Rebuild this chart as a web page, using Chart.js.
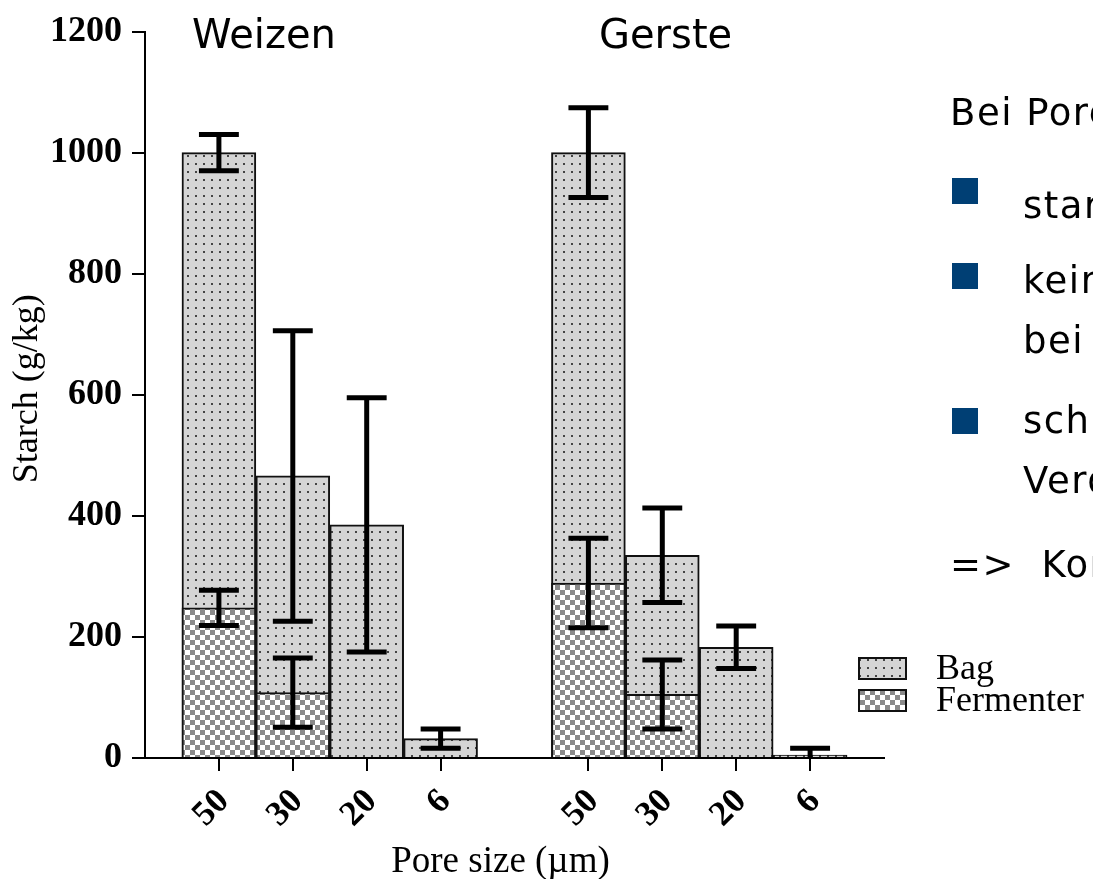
<!DOCTYPE html>
<html>
<head>
<meta charset="utf-8">
<script src="https://cdn.jsdelivr.net/npm/chart.js@4.4.1/dist/chart.umd.min.js"></script>
<style>
  html, body { margin: 0; padding: 0; background: #ffffff; overflow: hidden; }
  #wrap { width: 1093px; height: 879px; }
</style>
</head>
<body>
<div id="wrap"><canvas id="c" width="1093" height="879"></canvas></div>
<script>
// ---------------- data ----------------
const groups = ['Weizen', 'Gerste'];
const poreSizes = ['50', '30', '20', '6'];
const seriesNames = ['Bag', 'Fermenter'];

const bagWeizen = [1000, 466, 385, 32];
const bagGerste = [1000, 335, 183, 5];
const bagWeizenErr = [30, 240, 210, 16];
const bagGersteErr = [74, 78, 35, 11];

const fermWeizen = [248, 108, null, null];
const fermGerste = [289, 105, null, null];
const fermWeizenErr = [29, 57, null, null];
const fermGersteErr = [74, 57, null, null];

const yTicks = [0, 200, 400, 600, 800, 1000, 1200];
const xTitle = 'Pore size (µm)';
const yTitle = 'Starch (g/kg)';

const noteHeader = 'Bei Porengröße';
const noteBullets = [['stark'], ['keine', 'bei'], ['schlecht', 'Verdau']];
const noteConclusion = '=>  Kompromiss';

// ---------------- patterns ----------------
function makeDotPattern() {
  const c = document.createElement('canvas');
  c.width = 8; c.height = 8;
  const g = c.getContext('2d');
  g.fillStyle = '#d5d5d5'; g.fillRect(0, 0, 8, 8);
  g.fillStyle = '#444444'; g.fillRect(3, 3, 2, 2);
  return g.createPattern(c, 'repeat');
}
function makeCheckerPattern() {
  const c = document.createElement('canvas');
  c.width = 10; c.height = 10;
  const g = c.getContext('2d');
  g.fillStyle = '#ffffff'; g.fillRect(0, 0, 10, 10);
  g.fillStyle = '#8a8a8a'; g.fillRect(0, 0, 5, 5); g.fillRect(5, 5, 5, 5);
  return g.createPattern(c, 'repeat');
}
const dotPattern = makeDotPattern();
const checkerPattern = makeCheckerPattern();

// ---------------- build datasets ----------------
const slot = (gi, i) => gi * (poreSizes.length + 1) + i;
function buildPoints(perGroup) {
  const pts = [];
  perGroup.forEach((vals, gi) => vals.forEach((v, i) => pts.push({ x: slot(gi, i), y: v })));
  return pts;
}
const tickSlots = [];
groups.forEach((g, gi) => poreSizes.forEach((p, i) => tickSlots.push(slot(gi, i))));
const tickLabels = [];
groups.forEach(() => poreSizes.forEach(p => tickLabels.push(p)));

const datasets = [
  {
    label: seriesNames[0],
    data: buildPoints([bagWeizen, bagGerste]),
    errors: [].concat(bagWeizenErr, bagGersteErr),
    backgroundColor: dotPattern,
    borderColor: '#111111',
    borderWidth: 2,
    order: 2,
    grouped: false,
    barPercentage: 1.0,
    categoryPercentage: 1.0
  },
  {
    label: seriesNames[1],
    data: buildPoints([fermWeizen, fermGerste]),
    errors: [].concat(fermWeizenErr, fermGersteErr),
    backgroundColor: checkerPattern,
    borderColor: '#111111',
    borderWidth: 2,
    order: 1,
    grouped: false,
    barPercentage: 1.0,
    categoryPercentage: 1.0
  }
];

// ---------------- plugins ----------------
const errorBars = {
  id: 'errorBars',
  afterDatasetsDraw(chart) {
    const ctx = chart.ctx;
    const ys = chart.scales.y;
    const area = chart.chartArea;
    ctx.save();
    ctx.beginPath();
    ctx.rect(area.left, area.top - 20, area.right - area.left, area.bottom - area.top + 20);
    ctx.clip();
    ctx.strokeStyle = '#000000';
    ctx.lineWidth = 5;
    ctx.lineCap = 'butt';
    chart.data.datasets.forEach((ds, di) => {
      const meta = chart.getDatasetMeta(di);
      meta.data.forEach((bar, i) => {
        const sd = ds.errors[i];
        const v = ds.data[i].y;
        if (sd == null || v == null) return;
        const yt = ys.getPixelForValue(v + sd);
        const yb = ys.getPixelForValue(v - sd);
        const half = bar.width * 0.27;
        ctx.beginPath();
        ctx.moveTo(bar.x, yt); ctx.lineTo(bar.x, yb);
        ctx.moveTo(bar.x - half, yt); ctx.lineTo(bar.x + half, yt);
        ctx.moveTo(bar.x - half, yb); ctx.lineTo(bar.x + half, yb);
        ctx.stroke();
      });
    });
    ctx.restore();
  }
};

const annotations = {
  id: 'annotations',
  afterDraw(chart) {
    const ctx = chart.ctx;
    const xs = chart.scales.x;
    const area = chart.chartArea;
    ctx.save();
    ctx.fillStyle = '#000000';

    // rotated x tick labels
    ctx.font = 'bold 35px "Liberation Serif", "Times New Roman", serif';
    ctx.textAlign = 'right';
    ctx.textBaseline = 'middle';
    tickSlots.forEach((s, k) => {
      const px = xs.getPixelForValue(s);
      ctx.save();
      ctx.translate(px + 5, area.bottom + 38);
      ctx.rotate(-Math.PI / 4);
      ctx.fillText(tickLabels[k], 0, 0);
      ctx.restore();
    });

    // axis titles
    ctx.font = '37px "Liberation Serif", "Times New Roman", serif';
    ctx.textAlign = 'center';
    ctx.textBaseline = 'alphabetic';
    ctx.fillText(xTitle, (area.left + area.right) / 2 - 14, 872);
    ctx.font = '36px "Liberation Serif", "Times New Roman", serif';
    ctx.save();
    ctx.translate(37, (area.top + area.bottom) / 2 - 6);
    ctx.rotate(-Math.PI / 2);
    ctx.fillText(yTitle, 0, 0);
    ctx.restore();

    // group headers
    ctx.font = '40px "DejaVu Sans", sans-serif';
    ctx.textAlign = 'left';
    ctx.fillText(groups[0], 192, 48);
    ctx.fillText(groups[1], 599, 48);

    // legend
    const boxes = [dotPattern, checkerPattern];
    ctx.font = '36px "Liberation Serif", "Times New Roman", serif';
    seriesNames.forEach((name, k) => {
      const top = 658 + k * 32;
      ctx.fillStyle = boxes[k];
      ctx.fillRect(859, top, 47, 21);
      ctx.strokeStyle = '#111111';
      ctx.lineWidth = 2;
      ctx.strokeRect(859, top, 47, 21);
      ctx.fillStyle = '#000000';
      ctx.fillText(name, 936, top + 21);
    });

    // slide notes on the right
    ctx.font = '37px "DejaVu Sans", sans-serif';
    try { ctx.letterSpacing = '1.5px'; } catch (e) {}
    ctx.fillStyle = '#000000';
    ctx.fillText(noteHeader, 950, 125);
    const bulletTops = [178, 263, 408];
    const lineBase = [218, 293, 433];
    noteBullets.forEach((lines, k) => {
      ctx.fillStyle = '#003f74';
      ctx.fillRect(952, bulletTops[k], 26, 26);
      ctx.fillStyle = '#000000';
      lines.forEach((t, j) => ctx.fillText(t, 1023, lineBase[k] + j * 60));
    });
    ctx.fillText(noteConclusion, 950, 577);
    ctx.restore();
  }
};

// ---------------- chart ----------------
new Chart(document.getElementById('c'), {
  type: 'bar',
  data: { datasets },
  plugins: [errorBars, annotations],
  options: {
    responsive: false,
    devicePixelRatio: 1,
    animation: false,
    layout: { padding: { top: 23, right: 209, bottom: 0, left: 0 } },
    plugins: { legend: { display: false }, tooltip: { enabled: false }, title: { display: false } },
    scales: {
      x: {
        type: 'linear',
        offset: false,
        min: -1,
        max: 9,
        afterBuildTicks: (scale) => { scale.ticks = tickSlots.map(v => ({ value: v })); },
        afterFit: (scale) => { scale.height = 121; },
        ticks: { display: false },
        grid: { display: true, offset: false, drawOnChartArea: false, drawTicks: true, tickLength: 13, color: '#000000', lineWidth: 2 },
        border: { display: true, color: '#000000', width: 2 }
      },
      y: {
        type: 'linear',
        min: yTicks[0],
        max: yTicks[yTicks.length - 1],
        afterBuildTicks: (scale) => { scale.ticks = yTicks.map(v => ({ value: v })); },
        afterFit: (scale) => { scale.width = 145; },
        ticks: {
          color: '#000000',
          padding: 10,
          callback: (v) => String(v),
          font: { family: '"Liberation Serif", "Times New Roman", serif', size: 36, weight: 'bold' }
        },
        grid: { display: true, drawOnChartArea: false, drawTicks: true, tickLength: 13, color: '#000000', lineWidth: 2 },
        border: { display: true, color: '#000000', width: 2 }
      }
    }
  }
});
</script>
</body>
</html>
